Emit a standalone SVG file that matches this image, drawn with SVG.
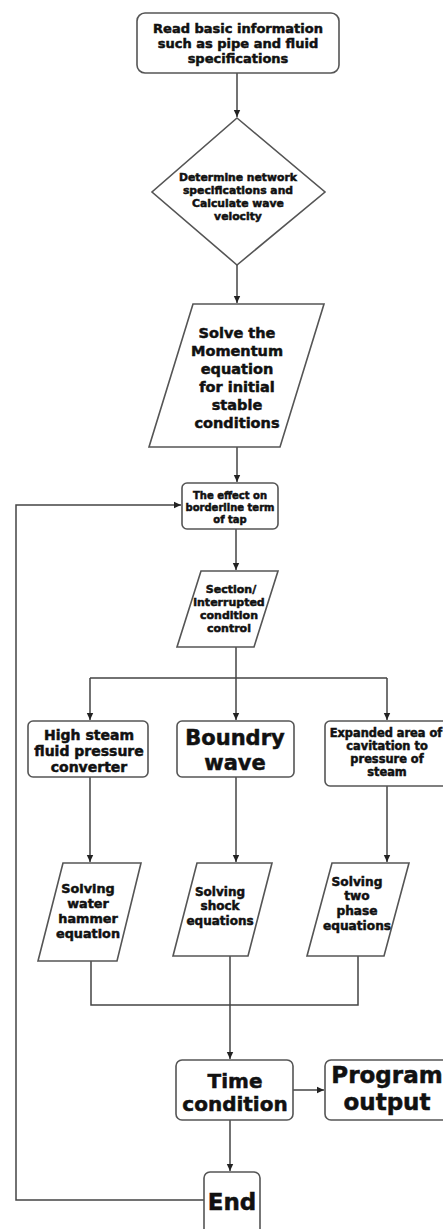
<svg xmlns="http://www.w3.org/2000/svg" width="443" height="1229" viewBox="0 0 443 1229">
<style>
.n{fill:#fff;stroke:#555;stroke-width:1.6}
.t{font-family:"DejaVu Sans",sans-serif;font-weight:bold;fill:#111;stroke:#111;stroke-width:0.5;text-anchor:middle}
.c{fill:none;stroke:#444;stroke-width:1.5}
</style>
<defs>
<marker id="ah" markerWidth="8" markerHeight="8" refX="7" refY="4" orient="auto" markerUnits="userSpaceOnUse">
<path d="M0,0.8 L7,4 L0,7.2 Z" fill="#222"/>
</marker>
</defs>
<rect width="443" height="1229" fill="#fff"/>
<g id="connectors">
<path class="c" d="M237,73 V117" marker-end="url(#ah)"/>
<path class="c" d="M237,265 V303" marker-end="url(#ah)"/>
<path class="c" d="M237,447 V482" marker-end="url(#ah)"/>
<path class="c" d="M236,529 V570" marker-end="url(#ah)"/>
<path class="c" d="M236,647 V678 M90,678 H387"/>
<path class="c" d="M90,678 V720" marker-end="url(#ah)"/>
<path class="c" d="M236,678 V720" marker-end="url(#ah)"/>
<path class="c" d="M387,678 V720" marker-end="url(#ah)"/>
<path class="c" d="M90,777 V862" marker-end="url(#ah)"/>
<path class="c" d="M236,777 V862" marker-end="url(#ah)"/>
<path class="c" d="M387,786 V862" marker-end="url(#ah)"/>
<path class="c" d="M91,961 V1005 H358 V956"/>
<path class="c" d="M230,956 V1059" marker-end="url(#ah)"/>
<path class="c" d="M293,1090 H324" marker-end="url(#ah)"/>
<path class="c" d="M230,1120 V1171" marker-end="url(#ah)"/>
<path class="c" d="M204,1200 H16 V505 H181" marker-end="url(#ah)"/>
</g>
<g id="read">
<rect class="n" x="137" y="13" width="202" height="60" rx="8"/>
<text class="t" font-size="13"><tspan x="238" y="33">Read basic information</tspan><tspan x="238" y="48">such as pipe and fluid</tspan><tspan x="238" y="63">specifications</tspan></text>
</g>
<g id="determine">
<polygon class="n" points="237,118 325,192 237,265 152,192"/>
<text class="t" font-size="10.8"><tspan x="238" y="181">Determine network</tspan><tspan x="238" y="194">specifications and</tspan><tspan x="238" y="207">Calculate wave</tspan><tspan x="238" y="220">velocity</tspan></text>
</g>
<g id="solve">
<polygon class="n" points="193,304 324,304 280,447 149,447"/>
<text class="t" font-size="14.5"><tspan x="237" y="338">Solve the</tspan><tspan x="237" y="356">Momentum</tspan><tspan x="237" y="374">equation</tspan><tspan x="237" y="392">for initial</tspan><tspan x="237" y="410">stable</tspan><tspan x="237" y="428">conditions</tspan></text>
</g>
<g id="effect">
<rect class="n" x="182" y="483" width="96" height="46" rx="5"/>
<text class="t" font-size="10"><tspan x="230" y="499">The effect on</tspan><tspan x="230" y="511">borderline term</tspan><tspan x="230" y="523">of tap</tspan></text>
</g>
<g id="section">
<polygon class="n" points="201,571 278,571 254,647 177,647"/>
<text class="t" font-size="11"><tspan x="231" y="593">Section/</tspan><tspan x="229" y="606">interrupted</tspan><tspan x="229" y="619">condition</tspan><tspan x="229" y="632">control</tspan></text>
</g>
<g id="highsteam">
<rect class="n" x="28" y="721" width="120" height="56" rx="5"/>
<text class="t" font-size="14"><tspan x="89" y="740">High steam</tspan><tspan x="89" y="756">fluid pressure</tspan><tspan x="89" y="772">converter</tspan></text>
</g>
<g id="boundry">
<rect class="n" x="177" y="721" width="117" height="56" rx="5"/>
<text class="t" font-size="21"><tspan x="235" y="745">Boundry</tspan><tspan x="235" y="770">wave</tspan></text>
</g>
<g id="expanded">
<rect class="n" x="325" y="721" width="124" height="65" rx="5"/>
<text class="t" font-size="11.4"><tspan x="386" y="737">Expanded area of</tspan><tspan x="387" y="750">cavitation to</tspan><tspan x="387" y="763">pressure of</tspan><tspan x="387" y="776">steam</tspan></text>
</g>
<g id="waterhammer">
<polygon class="n" points="63,863 141,863 117,961 38,961"/>
<text class="t" font-size="12.8"><tspan x="88" y="893">Solving</tspan><tspan x="88" y="908">water</tspan><tspan x="88" y="923">hammer</tspan><tspan x="88" y="938">equation</tspan></text>
</g>
<g id="shock">
<polygon class="n" points="197,863 272,863 248,956 173,956"/>
<text class="t" font-size="12"><tspan x="220" y="896">Solving</tspan><tspan x="220" y="910">shock</tspan><tspan x="220" y="925">equations</tspan></text>
</g>
<g id="twophase">
<polygon class="n" points="332,863 409,863 384,956 307,956"/>
<text class="t" font-size="12.2"><tspan x="357" y="886">Solving</tspan><tspan x="357" y="900">two</tspan><tspan x="357" y="915">phase</tspan><tspan x="357" y="930">equations</tspan></text>
</g>
<g id="time">
<rect class="n" x="176" y="1060" width="117" height="60" rx="6"/>
<text class="t" font-size="20"><tspan x="235" y="1088">Time</tspan><tspan x="235" y="1111">condition</tspan></text>
</g>
<g id="program">
<rect class="n" x="325" y="1060" width="124" height="60" rx="6"/>
<text class="t" font-size="23"><tspan x="387" y="1083">Program</tspan><tspan x="387" y="1110">output</tspan></text>
</g>
<g id="end">
<rect class="n" x="204" y="1172" width="56" height="75" rx="6"/>
<text class="t" font-size="23"><tspan x="232" y="1210">End</tspan></text>
</g>
</svg>
